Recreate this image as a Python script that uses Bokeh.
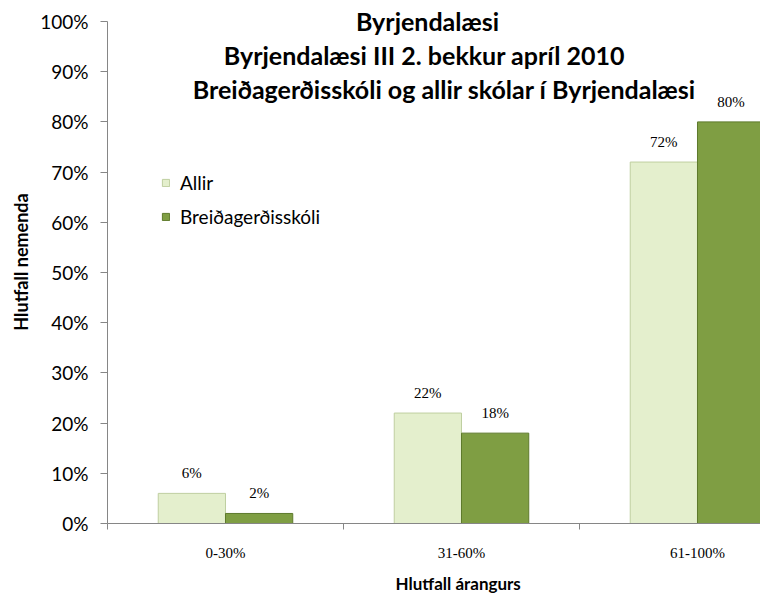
from bokeh.plotting import figure
from bokeh.models import (ColumnDataSource, FixedTicker, Label, Legend, LegendItem,
                          Range1d, LabelSet, Title)
from bokeh.core.properties import value
from bokeh.embed import file_html
from bokeh.resources import INLINE

categories = ["0-30%", "31-60%", "61-100%"]
allir = [6, 22, 72]
breid = [2, 18, 80]
series_names = ["Allir", "Breiðagerðisskóli"]
title_lines = ["Byrjendalæsi",
               "Byrjendalæsi III 2. bekkur apríl 2010",
               "Breiðagerðisskóli og allir skólar í Byrjendalæsi"]
y_ticks = list(range(0, 101, 10))
x_title = "Hlutfall árangurs"
y_title = "Hlutfall nemenda"

FONT = "Lato"
SERIF = "Liberation Serif"
W = 0.285

centers = [i + 0.5 for i in range(len(categories))]
src_a = ColumnDataSource(dict(x=[c - W / 2 for c in centers], top=allir,
                              lab=[f"{v}%" for v in allir]))
src_b = ColumnDataSource(dict(x=[c + W / 2 for c in centers], top=breid,
                              lab=[f"{v}%" for v in breid]))

p = figure(width=760, height=600, output_backend="svg", toolbar_location=None,
           x_range=Range1d(0, 2.767), y_range=Range1d(0, 104.18),
           min_border_left=107, min_border_top=0, min_border_right=0, min_border_bottom=77)
p.outline_line_color = None
p.xgrid.visible = False
p.ygrid.visible = False

ra = p.vbar(x="x", top="top", width=W, source=src_a, fill_color="#E4EFCD",
            line_color="#BFCFA0", line_width=1)
rb = p.vbar(x="x", top="top", width=W, source=src_b, fill_color="#7F9E43",
            line_color="#5E7A2C", line_width=1)

for src in (src_a, src_b):
    p.add_layout(LabelSet(x="x", y="top", text="lab", source=src, y_offset=12,
                          text_align="center", text_baseline="bottom",
                          text_font=value(SERIF), text_font_size="15px", text_color="#000000"))

# axes
p.yaxis.bounds = (0, 100)
p.yaxis.ticker = FixedTicker(ticks=y_ticks, minor_ticks=[])
p.yaxis.major_label_overrides = {t: f"{t}%" for t in y_ticks}
p.yaxis.major_label_text_font = FONT
p.yaxis.major_label_text_font_size = "19px"
p.yaxis.major_label_text_color = "#000000"
p.yaxis.axis_line_color = "#868686"
p.yaxis.major_tick_line_color = "#868686"
p.yaxis.major_tick_out = 7
p.yaxis.major_tick_in = 0
p.yaxis.minor_tick_line_color = None
p.yaxis.major_label_standoff = 12

p.add_layout(Title(text=y_title, align="center", offset=-10, standoff=12,
                   text_font=FONT, text_font_style="bold", text_font_size="18px",
                   text_color="#000000"), "left")

p.xaxis.ticker = FixedTicker(ticks=centers, minor_ticks=list(range(len(categories) + 1)))
p.xaxis.major_label_overrides = {c: categories[i] for i, c in enumerate(centers)}
p.xaxis.major_label_text_font = SERIF
p.xaxis.major_label_text_font_size = "15px"
p.xaxis.major_label_text_color = "#000000"
p.xaxis.major_label_standoff = 15
p.xaxis.axis_line_color = "#868686"
p.xaxis.major_tick_line_color = None
p.xaxis.major_tick_out = 6
p.xaxis.minor_tick_line_color = "#868686"
p.xaxis.minor_tick_out = 6
p.xaxis.minor_tick_in = 0

p.add_layout(Title(text=x_title, align="left", offset=288, standoff=14,
                   text_font=FONT, text_font_style="bold", text_font_size="17px",
                   text_color="#000000"), "below")

# title lines
for txt, xx, yy in zip(title_lines, [1.356, 1.343, 1.428], [100.0, 93.4, 86.5]):
    p.add_layout(Label(x=xx, y=yy, text=txt, text_align="center", text_baseline="middle",
                       text_font=FONT, text_font_style="bold", text_font_size="25px",
                       text_color="#000000"))

legend = Legend(items=[LegendItem(label=series_names[0], renderers=[ra]),
                       LegendItem(label=series_names[1], renderers=[rb])],
                location=(54, 295), glyph_width=9, glyph_height=9, spacing=11,
                label_standoff=10, padding=0, background_fill_alpha=0, border_line_color=None,
                label_text_font=FONT, label_text_font_size="19px", label_text_color="#000000")
p.add_layout(legend)

open("out.html", "w").write(file_html(p, INLINE))
